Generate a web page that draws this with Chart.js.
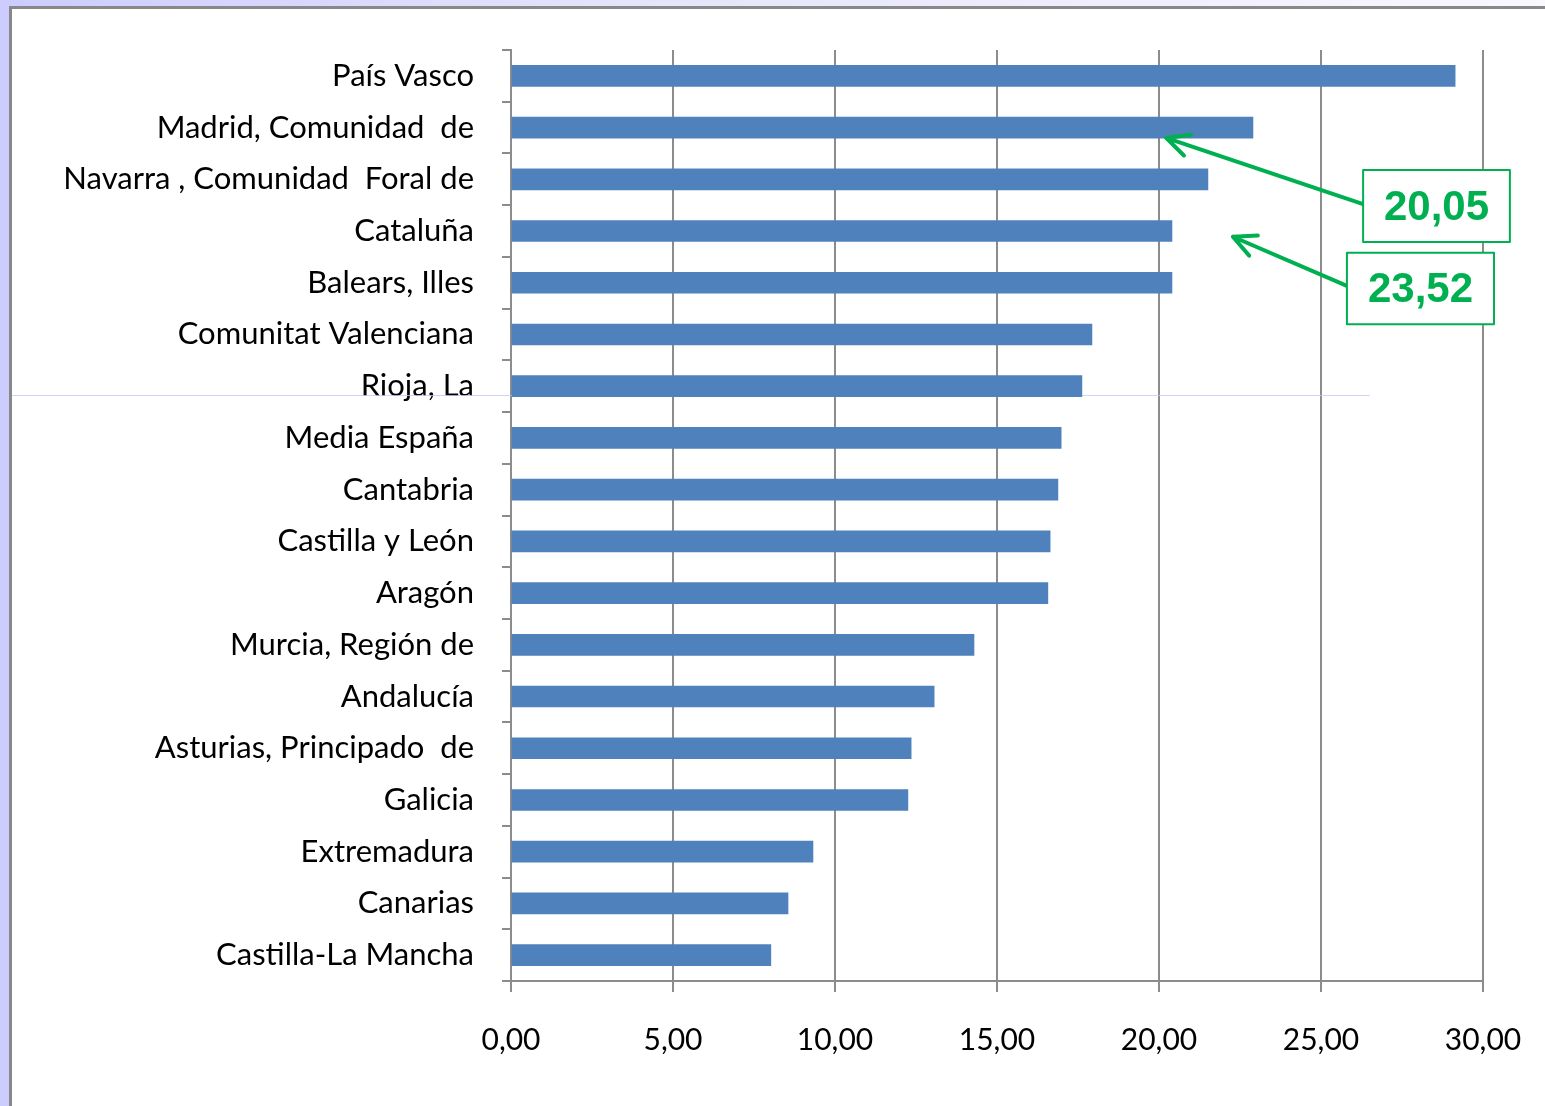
<!DOCTYPE html>
<html>
<head>
<meta charset="utf-8">
<script src="https://cdn.jsdelivr.net/npm/chart.js@4"></script>
<style>
  html, body { margin: 0; padding: 0; width: 1545px; height: 1106px; overflow: hidden; }
  body { background: linear-gradient(to right, #ccccff 0%, #e4e4fb 40%, #f8f8ff 100%); position: relative; }
  #left { position: absolute; left: 0; top: 0; width: 9px; height: 1106px; background: #ccccff; }
  #frame { position: absolute; left: 9px; top: 6px; width: 1536px; height: 1100px;
           border-left: 3px solid #888888; border-top: 3px solid #888888; background: #ffffff; box-sizing: border-box; }
  #wrap { position: absolute; left: 12px; top: 9px; width: 1533px; height: 1097px; }
</style>
</head>
<body>
<div id="left"></div>
<div id="frame"></div>
<div id="wrap"><canvas id="c"></canvas></div>
<script>
const categories = [
  "País Vasco",
  "Madrid, Comunidad  de",
  "Navarra , Comunidad  Foral de",
  "Cataluña",
  "Balears, Illes",
  "Comunitat Valenciana",
  "Rioja, La",
  "Media España",
  "Cantabria",
  "Castilla y León",
  "Aragón",
  "Murcia, Región de",
  "Andalucía",
  "Asturias, Principado  de",
  "Galicia",
  "Extremadura",
  "Canarias",
  "Castilla-La Mancha"
];
const values = [29.14, 22.90, 21.51, 20.40, 20.40, 17.93, 17.62, 16.98, 16.88, 16.64, 16.57, 14.29, 13.06, 12.35, 12.25, 9.32, 8.55, 8.02];
const xTickLabels = ["0,00", "5,00", "10,00", "15,00", "20,00", "25,00", "30,00"];
const calloutLabels = ["20,05", "23,52"];
// callout positions in data units (x value, category index)
const calloutBoxes = [
  { x1: 26.30, x2: 30.83, y1: 1.82, y2: 3.21 },
  { x1: 25.80, x2: 30.34, y1: 3.42, y2: 4.80 }
];
const calloutArrows = [
  { fx: 26.30, fy: 2.48, tx: 20.22, ty: 1.20 },
  { fx: 25.80, fy: 4.06, tx: 22.28, ty: 3.11 }
];

const GREEN = '#00B050';
const GRID = '#8c8c8c';

const decoPlugin = {
  id: 'deco',
  beforeDatasetsDraw(chart) {
    const ctx = chart.ctx;
    ctx.save();
    ctx.strokeStyle = 'rgba(200,200,240,0.8)';
    ctx.lineWidth = 1;
    ctx.beginPath();
    ctx.moveTo(0, 386.5);
    ctx.lineTo(1358, 386.5);
    ctx.stroke();
    ctx.restore();
  },
  afterDatasetsDraw(chart) {
    const ctx = chart.ctx;
    const xs = chart.scales.x, ys = chart.scales.y;
    ctx.save();
    ctx.strokeStyle = GREEN;
    ctx.fillStyle = GREEN;
    ctx.lineCap = 'round';
    ctx.lineJoin = 'round';
    calloutArrows.forEach(a => {
      const fx = xs.getPixelForValue(a.fx), fy = ys.getPixelForValue(a.fy);
      const tx = xs.getPixelForValue(a.tx), ty = ys.getPixelForValue(a.ty);
      const ang = Math.atan2(fy - ty, fx - tx);
      const L = 25, spread = 26 * Math.PI / 180;
      ctx.lineWidth = 4;
      ctx.beginPath();
      ctx.moveTo(fx, fy);
      ctx.lineTo(tx, ty);
      ctx.moveTo(tx + L * Math.cos(ang - spread), ty + L * Math.sin(ang - spread));
      ctx.lineTo(tx, ty);
      ctx.lineTo(tx + L * Math.cos(ang + spread), ty + L * Math.sin(ang + spread));
      ctx.stroke();
    });
    calloutBoxes.forEach((b, i) => {
      const x1 = xs.getPixelForValue(b.x1), x2 = xs.getPixelForValue(b.x2);
      const y1 = ys.getPixelForValue(b.y1), y2 = ys.getPixelForValue(b.y2);
      ctx.fillStyle = '#ffffff';
      ctx.fillRect(x1, y1, x2 - x1, y2 - y1);
      ctx.lineWidth = 2;
      ctx.strokeRect(x1, y1, x2 - x1, y2 - y1);
      ctx.fillStyle = GREEN;
      ctx.font = 'bold 42px "Liberation Sans", Arial, sans-serif';
      ctx.textAlign = 'center';
      ctx.textBaseline = 'middle';
      ctx.fillText(calloutLabels[i], (x1 + x2) / 2, (y1 + y2) / 2 + 2);
    });
    ctx.restore();
  }
};

new Chart(document.getElementById('c'), {
  type: 'bar',
  data: {
    labels: categories,
    datasets: [{
      data: values,
      backgroundColor: '#4F81BD',
      borderWidth: 0,
      barThickness: 21
    }]
  },
  options: {
    indexAxis: 'y',
    responsive: true,
    maintainAspectRatio: false,
    animation: false,
    layout: { padding: { top: 41, right: 62, bottom: 0, left: 0 } },
    plugins: { legend: { display: false }, tooltip: { enabled: false } },
    scales: {
      x: {
        min: 0, max: 30,
        afterFit(scale) {
          scale.height = 125;
          scale.paddingLeft = 0; scale.paddingRight = 0;
        },
        ticks: {
          stepSize: 5,
          padding: 30,
          color: '#000000',
          font: { family: 'Lato', size: 30 },
          callback: (v, i) => xTickLabels[i]
        },
        grid: { color: GRID, lineWidth: 2, tickLength: 11, drawTicks: true },
        border: { display: true, color: GRID, width: 2 }
      },
      y: {
        afterFit(scale) {
          scale.width = 499;
          scale.paddingTop = 0; scale.paddingBottom = 0;
        },
        ticks: {
          padding: 28,
          color: '#000000',
          font: { family: 'Lato', size: 31 }
        },
        grid: { offset: true, drawOnChartArea: false, drawTicks: true, tickLength: 9, color: GRID, lineWidth: 2 },
        border: { display: true, color: GRID, width: 2 }
      }
    }
  },
  plugins: [decoPlugin]
});
</script>
</body>
</html>
